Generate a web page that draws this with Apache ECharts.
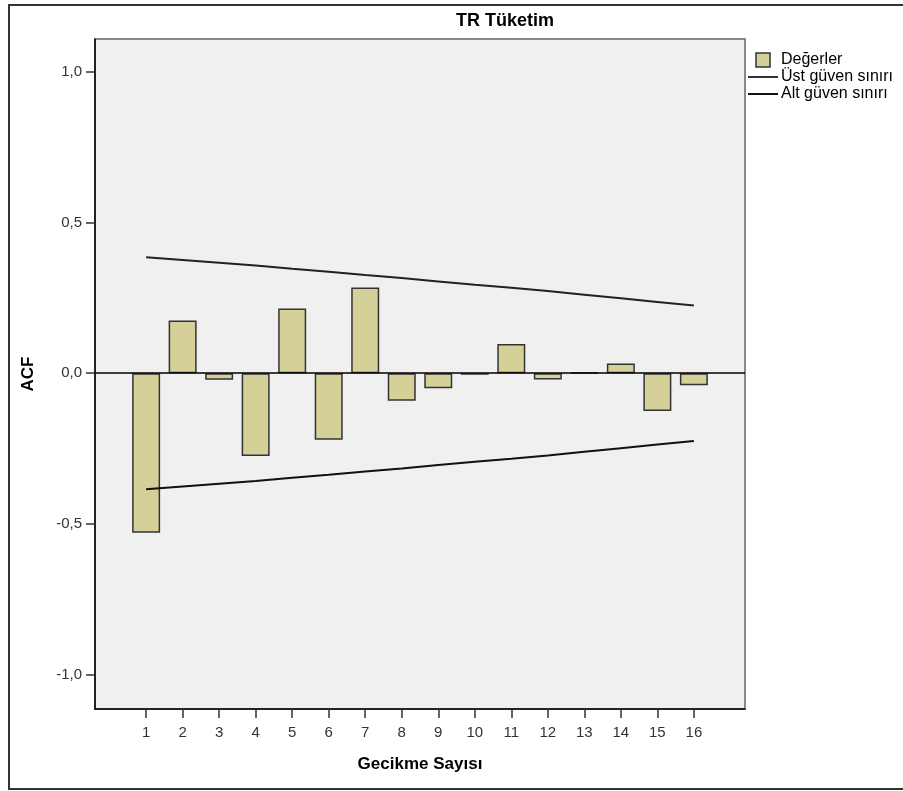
<!DOCTYPE html>
<html>
<head>
<meta charset="utf-8">
<script src="https://cdn.jsdelivr.net/npm/echarts@6/dist/echarts.min.js"></script>
<style>
html,body{margin:0;padding:0;background:#fff;}
#chart{width:903px;height:791px;}
</style>
</head>
<body>
<div id="chart"></div>
<script>
const lags = [1, 2, 3, 4, 5, 6, 7, 8, 9, 10, 11, 12, 13, 14, 15, 16];
const acfValues = [-0.53, 0.175, -0.022, -0.275, 0.215, -0.221, 0.285, -0.091, -0.05, -0.005, 0.097, -0.021, 0.002, 0.032, -0.125, -0.04];
const upperBound = [0.385, 0.376, 0.367, 0.358, 0.347, 0.337, 0.326, 0.316, 0.305, 0.294, 0.284, 0.273, 0.261, 0.249, 0.237, 0.225];
const lowerBound = [-0.385, -0.376, -0.367, -0.358, -0.347, -0.337, -0.326, -0.316, -0.305, -0.294, -0.284, -0.273, -0.261, -0.249, -0.237, -0.225];
const yTicks = [-1, -0.5, 0, 0.5, 1];
const titleText = 'TR Tüketim';
const seriesNames = ['Değerler', 'Üst güven sınırı', 'Alt güven sınırı'];

const FONT = '"Liberation Sans", Arial, sans-serif';
const chart = echarts.init(document.getElementById('chart'), null, {renderer: 'canvas'});

const lineIcon = 'path://M0,0h30v2h-30z';

const option = {
  animation: false,
  backgroundColor: '#ffffff',
  graphic: [
    {type: 'rect', shape: {x: 9, y: 5, width: 910, height: 784}, style: {fill: 'none', stroke: '#333', lineWidth: 2}, silent: true, z: -10},
    {type: 'text', x: 505, y: 12, style: {text: titleText, textAlign: 'center', fill: '#000', font: 'bold 18px ' + FONT}}
  ],
  legend: {
    orient: 'vertical',
    left: 748,
    top: 52,
    padding: 0,
    itemWidth: 30,
    itemHeight: 14,
    itemGap: 1,
    textStyle: {fontFamily: FONT, fontSize: 16, lineHeight: 14, color: '#000', padding: [0, 0, 0, -2]},
    data: [
      {name: seriesNames[0], icon: 'path://M0,0h10v10h-10z', itemStyle: {color: '#d5cf98', borderColor: '#333', borderWidth: 1.5}},
      {name: seriesNames[1], icon: lineIcon, itemStyle: {color: '#333', borderWidth: 0}},
      {name: seriesNames[2], icon: lineIcon, itemStyle: {color: '#111', borderWidth: 0}}
    ]
  },
  grid: {
    left: 95, right: 158, top: 39, bottom: 82,
    show: true, backgroundColor: '#f0f0f0', borderColor: '#666', borderWidth: 1.5
  },
  xAxis: {
    type: 'value',
    min: -0.4, max: 17.4,
    name: 'Gecikme Sayısı',
    nameLocation: 'middle',
    nameGap: 47,
    nameTextStyle: {fontFamily: FONT, fontSize: 17, fontWeight: 'bold', color: '#000'},
    splitLine: {show: false},
    axisLine: {show: true, onZero: false, lineStyle: {color: '#000', width: 1.5}},
    axisTick: {show: true, inside: false, length: 9, customValues: lags, lineStyle: {color: '#333', width: 1.5}},
    axisLabel: {customValues: lags, margin: 16, fontFamily: FONT, fontSize: 15, color: '#333'}
  },
  yAxis: {
    type: 'value',
    min: -1.115, max: 1.11,
    name: 'ACF',
    nameLocation: 'middle',
    nameGap: 58,
    nameRotate: 90,
    nameTextStyle: {fontFamily: FONT, fontSize: 17, fontWeight: 'bold', color: '#000'},
    splitLine: {show: false},
    axisLine: {show: true, onZero: false, lineStyle: {color: '#000', width: 1.5}},
    axisTick: {show: true, inside: false, length: 9, customValues: yTicks, lineStyle: {color: '#333', width: 1.5}},
    axisLabel: {customValues: yTicks, margin: 13, fontFamily: FONT, fontSize: 15, color: '#333',
      formatter: v => v.toFixed(1).replace('.', ',')}
  },
  series: [
    {
      name: seriesNames[0],
      type: 'bar',
      barWidth: 28,
      data: lags.map((l, i) => [l, acfValues[i]]),
      itemStyle: {color: '#d5cf98', borderColor: '#333', borderWidth: 1.5},
      markLine: {
        silent: true, symbol: 'none', label: {show: false},
        lineStyle: {color: '#000', width: 1.5, type: 'solid'},
        data: [{yAxis: 0}]
      },
      z: 2
    },
    {
      name: seriesNames[1],
      type: 'line',
      symbol: 'none',
      data: lags.map((l, i) => [l, upperBound[i]]),
      lineStyle: {color: '#222', width: 2},
      itemStyle: {color: '#333'},
      z: 3
    },
    {
      name: seriesNames[2],
      type: 'line',
      symbol: 'none',
      data: lags.map((l, i) => [l, lowerBound[i]]),
      lineStyle: {color: '#111', width: 2},
      itemStyle: {color: '#111'},
      z: 3
    }
  ]
};
chart.setOption(option);
</script>
</body>
</html>
